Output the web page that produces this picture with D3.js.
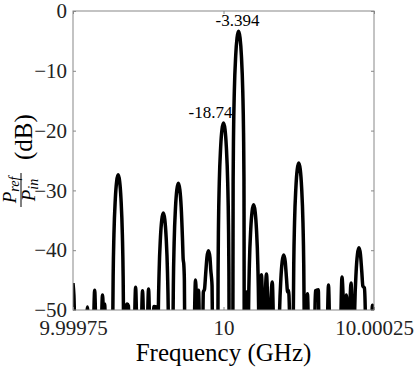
<!DOCTYPE html>
<html>
<head>
<meta charset="utf-8">
<script src="https://cdn.jsdelivr.net/npm/d3@7"></script>
<style>
body { margin: 0; background: #fff; }
svg { display: block; }
</style>
</head>
<body>
<svg id="chart" width="415" height="369"></svg>
<script>
// frequency offset from 10 GHz, in kHz, and reflected power in dB (traced by eye)
var offsetKHz = [
    -250, -248.5, -246,
    -229, -226, -223,
    -217, -214, -211,
    -204, -201, -199, -197.5, -195,
    -184.6, -184, -183.3, -182, -179.7, -177.5, -175, -172.5, -170.3, -168, -166.7, -166, -165.4,
    -162, -160, -158, -156,
    -149, -146, -143,
    -137.5, -134.5, -131.5,
    -127.5, -124.5, -121.5,
    -117.5, -115.5, -111, -110.2,
    -109.6, -109, -108.3, -107, -104.7, -102.5, -100, -97.5, -95.3, -93, -91.7, -91, -90.4,
    -84.6, -84, -83.3, -82, -79.7, -77.5, -75, -72.5, -70.3, -68, -67, -66, -65, -64.3, -63.5,
    -49.5, -46.5, -44, -41.5, -39,
    -35, -33.5, -31.5, -29.7, -27.5, -25, -22.5, -21, -20, -19, -18, -17,
    -9.6, -9, -8.3, -7, -4.7, -2.5, 0, 2.5, 4.7, 7, 8.3, 9, 9.6,
    15.4, 16, 16.7, 18, 20.3, 22.5, 25, 27.5, 29.7, 32, 33.3, 34, 34.6,
    36.5, 38.3, 40,
    40.4, 41, 41.7, 43, 45.3, 47.5, 50, 52.5, 54.7, 57, 58.3, 59, 59.6,
    60.3, 63, 66.5, 71.4, 75.5, 81, 84,
    90.4, 91.7, 93, 95.3, 97.5, 100, 102.5, 104.7, 106.5, 108, 109.5, 110.5,
    115.4, 116, 116.7, 118, 120.3, 122.5, 125, 127.5, 129.7, 132, 133.3, 134, 134.6,
    137, 139.5, 142,
    151, 152.5, 157.5, 159,
    171.5, 174.4, 177.3,
    193.5, 196.8, 201, 204, 207.5,
    209.5, 211.8, 214.5,
    215.4, 216.7, 218, 220.3, 222.5, 225, 227.5, 229.7, 231.5, 234, 235.5, 236.5,
    245, 247.5, 250
];
var powerDB = [
    -45.5, -47.5, -56,
    -55, -49.5, -55,
    -56, -46.7, -56,
    -56, -47.5, -50.5, -49, -56,
    -62, -52.4, -44.4, -37.4, -31.4, -28.5, -27.4, -28.5, -31.4, -37.4, -44.4, -52.4, -62,
    -49.5, -49, -49.3, -56,
    -56, -46.2, -56,
    -56, -46.8, -56,
    -56, -46.5, -56,
    -55, -49.4, -49.5, -56,
    -62, -58.8, -50.8, -43.8, -37.8, -34.9, -33.8, -34.9, -37.8, -43.8, -50.8, -58.8, -62,
    -62, -53.8, -45.8, -38.8, -32.8, -29.9, -28.8, -29.9, -32.8, -38.5, -41.5, -42.3, -45, -55, -62,
    -56, -45, -50, -46.7, -56,
    -56, -47, -46.5, -44.1, -41.2, -40.1, -41.2, -43.5, -44.5, -46, -56, -62,
    -62, -43.7, -35.7, -28.7, -22.7, -19.8, -18.74, -19.8, -22.7, -28.7, -35.7, -43.7, -62,
    -62, -28.4, -20.4, -13.4, -7.4, -4.5, -3.394, -4.5, -7.4, -13.4, -20.4, -28.4, -62,
    -56, -47, -56,
    -62, -57.4, -49.4, -42.4, -36.4, -33.5, -32.4, -33.5, -36.4, -42.4, -49.4, -57.4, -62,
    -56, -44.1, -54, -44, -54, -45.3, -56,
    -62, -57.8, -50.8, -44.8, -41.9, -40.8, -41.9, -44.8, -47, -46.7, -50, -62,
    -62, -50.4, -42.4, -35.4, -29.4, -26.5, -25.4, -26.5, -29.4, -35.4, -42.4, -50.4, -62,
    -56, -47.3, -56,
    -56, -46.8, -46.6, -56,
    -56, -45.8, -56,
    -56, -44.5, -52, -47.5, -52,
    -50, -45.5, -56,
    -62, -56.6, -49.6, -43.6, -40.7, -39.6, -40.7, -43.6, -46, -46.3, -50, -58,
    -56, -49.2, -50.5
];

var xTicks = [9.99975, 10, 10.00025];
var xTickLabels = ["9.99975", "10", "10.00025"];
var yTicks = [0, -10, -20, -30, -40, -50];

var peakNotes = [
    {f: 10.000025, db: -3.394, label: "-3.394"},
    {f: 10, db: -18.74, label: "-18.74"}
];

var SERIF = '"Liberation Serif", "Times New Roman", serif';

var svg = d3.select('#chart');
var margin = {left: 73, top: 11, right: 41, bottom: 59};
var width = 415 - margin.left - margin.right;
var height = 369 - margin.top - margin.bottom;

var x = d3.scaleLinear().domain([9.99975, 10.00025]).range([0, width]);
var y = d3.scaleLinear().domain([-50, 0]).range([height, 0]);

var g = svg.append('g').attr('transform', 'translate(' + margin.left + ',' + margin.top + ')');

g.append('clipPath').attr('id', 'plot-clip')
    .append('rect').attr('width', width).attr('height', height);

var points = offsetKHz.map(function(o, i) { return [10 + o / 1e6, powerDB[i]]; });

var line = d3.line()
    .x(function(d) { return x(d[0]); })
    .y(function(d) { return y(d[1]); })
    .curve(d3.curveMonotoneX);

g.append('path')
    .datum(points)
    .attr('clip-path', 'url(#plot-clip)')
    .attr('fill', 'none')
    .attr('stroke', '#000')
    .attr('stroke-width', 3.5)
    .attr('stroke-linejoin', 'round')
    .attr('d', line);

function styleAxis(a){
    a.select('.domain').remove();
    a.selectAll('.tick line').attr('stroke', '#888');
    a.selectAll('text')
        .style('font-family', SERIF)
        .style('font-size', '21px')
        .attr('fill', '#222');
}

// axes, ticks pointing inward
g.append('g')
    .call(d3.axisLeft(y).tickValues(yTicks).tickSize(-3).tickPadding(6))
    .call(styleAxis);
g.append('g').attr('transform', 'translate(' + width + ',0)')
    .call(d3.axisRight(y).tickValues(yTicks).tickSize(-3).tickFormat(''))
    .call(styleAxis);
g.append('g').attr('transform', 'translate(0,' + height + ')')
    .call(d3.axisBottom(x).tickValues(xTicks).tickSize(-3).tickPadding(10)
        .tickFormat(function(d, i) { return xTickLabels[i]; }))
    .call(styleAxis);
g.append('g')
    .call(d3.axisTop(x).tickValues(xTicks).tickSize(-3).tickFormat(''))
    .call(styleAxis);

g.append('rect')
    .attr('width', width).attr('height', height)
    .attr('fill', 'none').attr('stroke', '#888').attr('stroke-width', 1);

// peak annotations
g.selectAll('.note')
    .data(peakNotes)
    .enter().append('text')
    .attr('class', 'note')
    .attr('x', function(d, i) { return i == 0 ? x(d.f) - 1 : x(d.f) - 13; })
    .attr('y', function(d) { return y(d.db) - 5; })
    .attr('text-anchor', 'middle')
    .style('font-family', SERIF)
    .style('font-size', '17px')
    .text(function(d) { return d.label; });

// x label
svg.append('text')
    .attr('x', margin.left + width / 2)
    .attr('y', 361)
    .attr('text-anchor', 'middle')
    .style('font-family', SERIF)
    .style('font-size', '25px')
    .text('Frequency (GHz)');

// y label: P_ref / P_in (dB), rotated
var yl = svg.append('g').attr('transform', 'translate(0,160) rotate(-90)')
    .style('font-family', SERIF);
yl.append('text')
    .attr('x', 0).attr('y', 32)
    .style('font-size', '25px')
    .text('(dB)');
var num = yl.append('text').attr('x', -30).attr('y', 16).attr('text-anchor', 'middle');
num.append('tspan').style('font-style', 'italic').style('font-size', '19px').text('P');
num.append('tspan').style('font-style', 'italic').style('font-size', '14px').attr('dy', 3).text('ref');
yl.append('line')
    .attr('x1', -47).attr('x2', -13).attr('y1', 21).attr('y2', 21)
    .attr('stroke', '#000').attr('stroke-width', 1);
var den = yl.append('text').attr('x', -30).attr('y', 35).attr('text-anchor', 'middle');
den.append('tspan').style('font-style', 'italic').style('font-size', '19px').text('P');
den.append('tspan').style('font-style', 'italic').style('font-size', '14px').attr('dy', 3).text('in');
</script>
</body>
</html>
